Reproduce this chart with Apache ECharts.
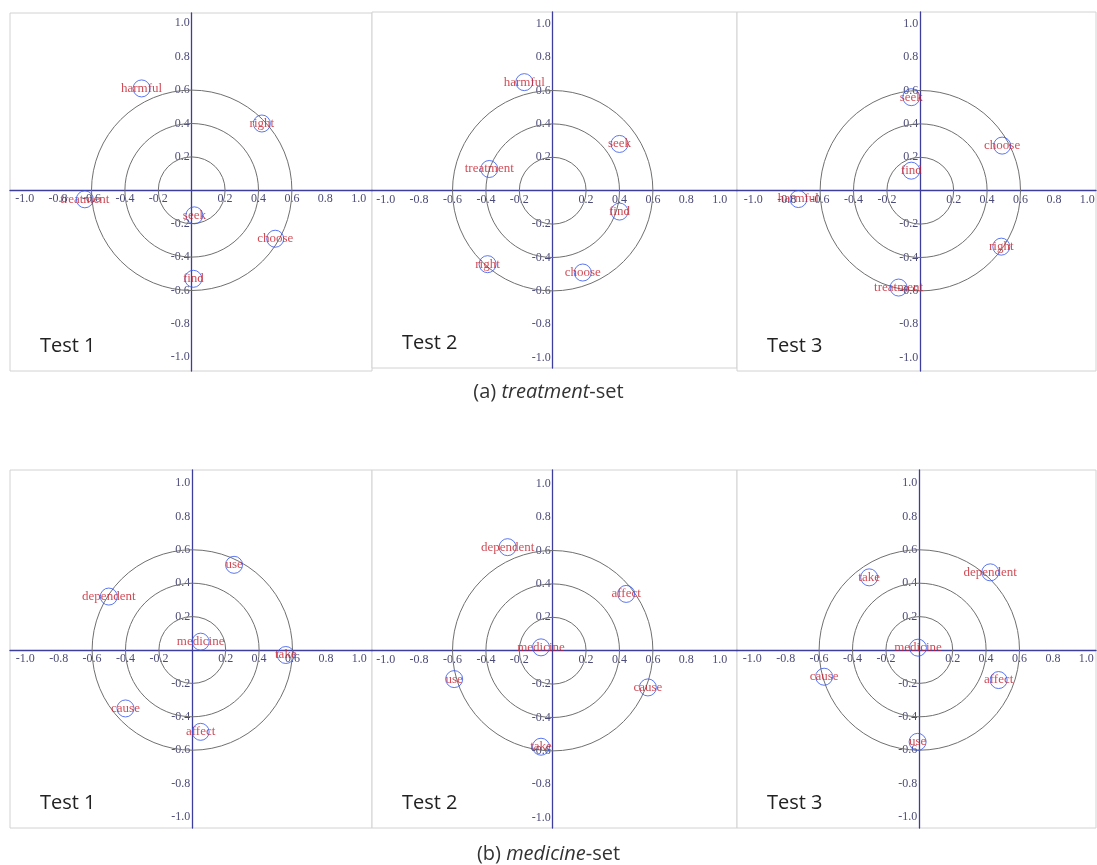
<!DOCTYPE html>
<html>
<head>
<meta charset="UTF-8">
<title>treatment-set / medicine-set</title>
<script src="https://cdn.jsdelivr.net/npm/echarts@6.0.0/dist/echarts.min.js"></script>
<style>
html, body { margin: 0; padding: 0; background: #fff; }
#main { width: 1097px; height: 865px; }
</style>
</head>
<body>
<div id="main"></div>
<script type="text/javascript">
// words of the two sets
var treatWords = ['harmful', 'right', 'treatment', 'seek', 'choose', 'find'];
var mediWords = ['use', 'dependent', 'medicine', 'take', 'cause', 'affect'];

// treatment-set, same word order as treatWords
var treat1X = [-0.30, 0.42, -0.64, 0.016, 0.50, 0.01];
var treat1Y = [0.61, 0.40, -0.054, -0.15, -0.29, -0.53];
var treat2X = [-0.17, -0.39, -0.38, 0.40, 0.18, 0.40];
var treat2Y = [0.65, -0.44, 0.13, 0.28, -0.49, -0.125];
var treat3X = [-0.73, 0.485, -0.13, -0.054, 0.49, -0.054];
var treat3Y = [-0.05, -0.335, -0.58, 0.56, 0.27, 0.12];

// medicine-set, same word order as mediWords
var medi1X = [0.25, -0.50, 0.05, 0.56, -0.40, 0.05];
var medi1Y = [0.51, 0.32, 0.05, -0.03, -0.35, -0.49];
var medi2X = [-0.59, -0.27, -0.07, -0.07, 0.57, 0.44];
var medi2Y = [-0.17, 0.62, 0.02, -0.575, -0.22, 0.34];
var medi3X = [-0.01, 0.425, -0.008, -0.30, -0.57, 0.475];
var medi3Y = [-0.55, 0.465, 0.014, 0.435, -0.16, -0.18];

// rings and tick labels
var rings = [0.2, 0.4, 0.6];
var ticks = [-1.0, -0.8, -0.6, -0.4, -0.2, 0.2, 0.4, 0.6, 0.8, 1.0];
var testNames = ['Test 1', 'Test 2', 'Test 3', 'Test 1', 'Test 2', 'Test 3'];

var panelData = [
	[treatWords, treat1X, treat1Y],
	[treatWords, treat2X, treat2Y],
	[treatWords, treat3X, treat3Y],
	[mediWords, medi1X, medi1Y],
	[mediWords, medi2X, medi2Y],
	[mediWords, medi3X, medi3Y]
];

// panel boxes in pixels, cx/cy = where the origin sits
var unit = 167;
var boxes = [
	{left: 10, top: 13, width: 362, height: 358, cx: 191.7, cy: 190.3},
	{left: 372, top: 12, width: 365, height: 356, cx: 552.7, cy: 190.7},
	{left: 737, top: 12, width: 359, height: 359, cx: 920.3, cy: 190.7},
	{left: 10, top: 470, width: 362, height: 358, cx: 192.3, cy: 650},
	{left: 372, top: 470, width: 365, height: 358, cx: 552.7, cy: 650.7},
	{left: 737, top: 470, width: 359, height: 358, cx: 919.3, cy: 650}
];

var axisColor = '#3d3d9e';
var labelStyle = {
	color: '#4b4b78',
	fontFamily: 'Liberation Serif',
	fontSize: 12
};

var grid = [], xAxis = [], yAxis = [], series = [], title = [];

for (var i = 0; i < boxes.length; i++) {
	var b = boxes[i];
	grid.push({
		left: b.left, top: b.top, width: b.width, height: b.height,
		containLabel: false, outerBoundsMode: 'none',
		show: true, borderColor: '#d2d2d2', borderWidth: 1, backgroundColor: '#fff'
	});
	// axes are pushed in from the grid edge so they cross at the origin
	xAxis.push({
		type: 'value', gridIndex: i, position: 'bottom',
		offset: -(b.top + b.height - b.cy),
		min: (b.left - b.cx) / unit,
		max: (b.left + b.width - b.cx) / unit,
		axisLine: {onZero: false, lineStyle: {color: axisColor, width: 1.3}},
		axisTick: {show: false},
		splitLine: {show: false},
		axisLabel: Object.assign({
			customValues: ticks, margin: 3,
			formatter: function (v) { return v.toFixed(1); }
		}, labelStyle)
	});
	yAxis.push({
		type: 'value', gridIndex: i, position: 'left',
		offset: -(b.cx - b.left),
		min: (b.cy - b.top - b.height) / unit,
		max: (b.cy - b.top) / unit,
		axisLine: {onZero: false, lineStyle: {color: axisColor, width: 1.3}},
		axisTick: {show: false},
		splitLine: {show: false},
		axisLabel: Object.assign({
			customValues: ticks, margin: 2,
			formatter: function (v) { return v.toFixed(1); }
		}, labelStyle)
	});

	// concentric rings
	series.push({
		type: 'custom', xAxisIndex: i, yAxisIndex: i, silent: true, z: 1,
		data: rings.map(function (r) { return [0, 0, r]; }),
		renderItem: function (params, api) {
			var c = api.coord([api.value(0), api.value(1)]);
			var r = api.size([api.value(2), 0])[0];
			return {
				type: 'circle',
				shape: {cx: c[0], cy: c[1], r: r},
				style: {fill: 'none', stroke: '#707070', lineWidth: 1}
			};
		}
	});

	var words = panelData[i][0], xs = panelData[i][1], ys = panelData[i][2];
	var pts = [];
	for (var k = 0; k < words.length; k++) {
		pts.push({name: words[k], value: [xs[k], ys[k]]});
	}
	series.push({
		type: 'scatter', xAxisIndex: i, yAxisIndex: i, z: 3,
		symbol: 'circle', symbolSize: 17,
		itemStyle: {color: 'rgba(255,255,255,0)', borderColor: '#3355ee', borderWidth: 1},
		label: {
			show: true, position: 'inside',
			formatter: '{b}',
			color: '#c41e2a', fontFamily: 'Liberation Serif', fontSize: 13
		},
		data: pts
	});

	title.push({
		text: testNames[i],
		left: b.left + 25, top: b.top + b.height - 40,
		textStyle: {fontFamily: 'Open Sans', fontSize: 20, fontWeight: 'normal', color: '#222'}
	});
}

// captions
var capRich = {
	n: {fontFamily: 'Open Sans', fontSize: 20, fontWeight: 'normal', color: '#333'},
	i: {fontFamily: 'Open Sans', fontSize: 20, fontWeight: 'normal', color: '#333', fontStyle: 'italic'}
};
title.push({
	text: '{n|(a) }{i|treatment}{n|-set}', left: 'center', top: 377,
	textStyle: {fontWeight: 'normal', rich: capRich}
});
title.push({
	text: '{n|(b) }{i|medicine}{n|-set}', left: 'center', top: 839,
	textStyle: {fontWeight: 'normal', rich: capRich}
});

var myChart = echarts.init(document.getElementById('main'));
myChart.setOption({
	animation: false,
	title: title,
	grid: grid,
	xAxis: xAxis,
	yAxis: yAxis,
	series: series
});
</script>
</body>
</html>
